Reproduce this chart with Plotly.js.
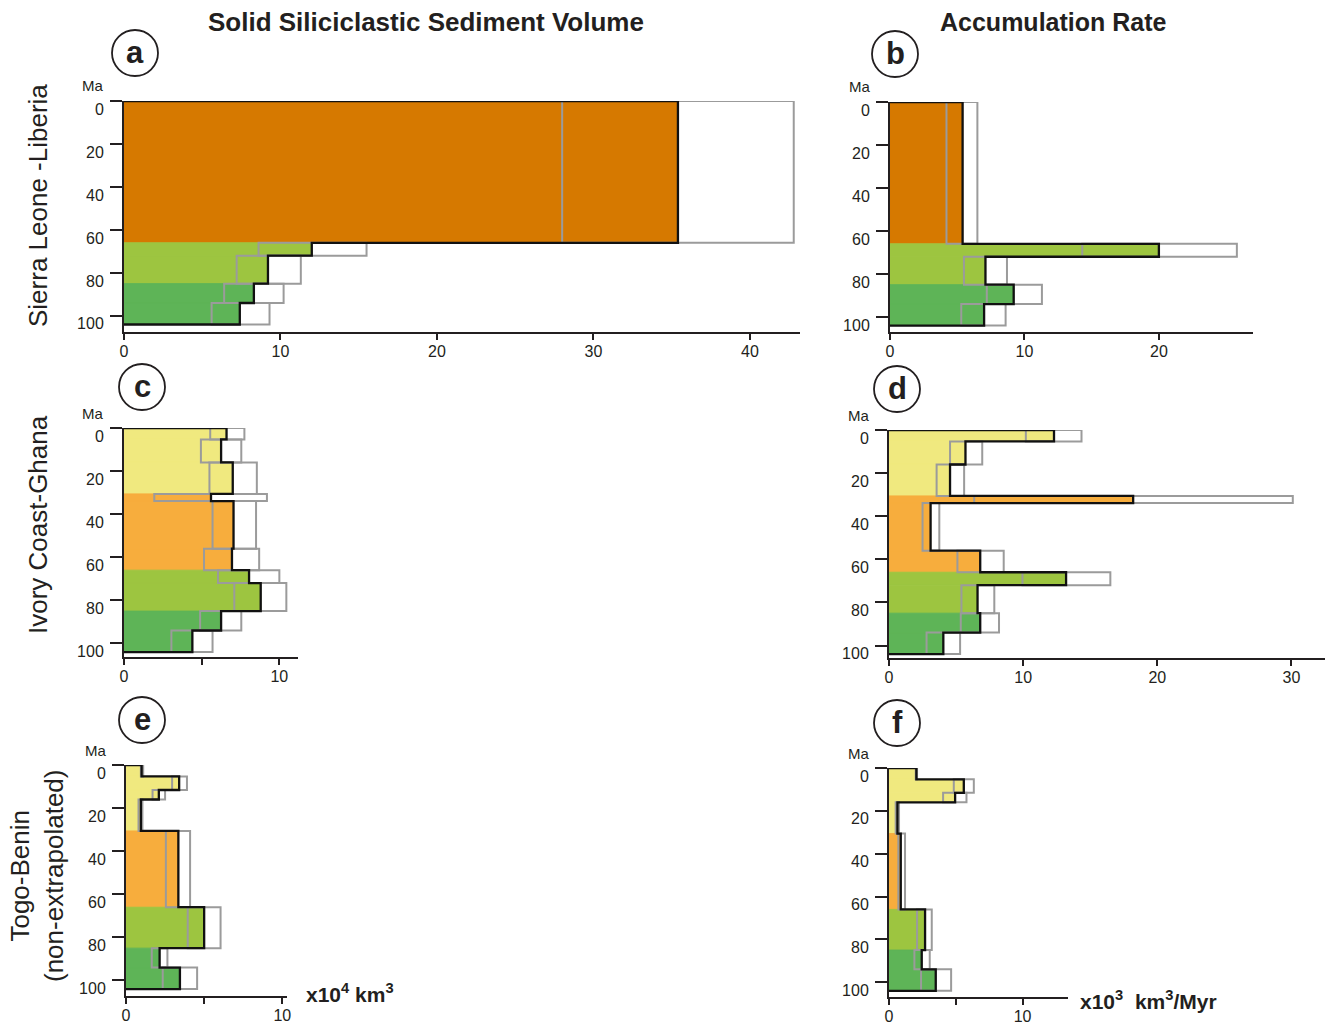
<!DOCTYPE html>
<html><head><meta charset="utf-8">
<script src="https://cdn.plot.ly/plotly-3.0.1.min.js"></script>
<style>html,body{margin:0;padding:0;background:#fff}</style>
</head><body><div id="chart" style="width:1330px;height:1025px"></div>
<script>
// ---------------- DATA ----------------
// Age interval boundaries (Ma) and the colour group of each interval
const agesSL = [0, 66, 72, 85, 94, 104];
const groupsSL = ['Cenozoic', 'Campanian-Maastrichtian', 'Campanian-Maastrichtian', 'Cenomanian-Santonian', 'Cenomanian-Santonian'];
// Sierra Leone - Liberia: volume (x10^4 km3) best / min / max
const volSL    = [35.4, 12.0, 9.2, 8.3, 7.4];
const volSLmin = [28.0, 8.6, 7.2, 6.4, 5.6];
const volSLmax = [42.8, 15.5, 11.3, 10.2, 9.3];
// Sierra Leone - Liberia: accumulation rate (x10^3 km3/Myr)
const rateSL    = [5.4, 20.0, 7.1, 9.2, 7.0];
const rateSLmin = [4.2, 14.3, 5.5, 7.2, 5.3];
const rateSLmax = [6.5, 25.8, 8.7, 11.3, 8.6];

const agesIC = [0, 5.3, 16, 30.6, 33.9, 56, 66, 72, 85, 94, 104];
const groupsIC = ['Neogene-Oligocene', 'Neogene-Oligocene', 'Neogene-Oligocene', 'Paleogene', 'Paleogene', 'Paleogene',
                  'Campanian-Maastrichtian', 'Campanian-Maastrichtian', 'Cenomanian-Santonian', 'Cenomanian-Santonian'];
// Ivory Coast - Ghana
const volIC    = [6.6, 6.25, 7.0, 5.6, 7.05, 6.95, 8.05, 8.8, 6.25, 4.4];
const volICmin = [5.55, 4.95, 5.5, 1.95, 5.7, 5.15, 6.05, 7.1, 4.9, 3.05];
const volICmax = [7.75, 7.55, 8.55, 9.2, 8.5, 8.7, 10.0, 10.45, 7.55, 5.7];
const rateIC    = [12.3, 5.7, 4.55, 18.2, 3.1, 6.8, 13.2, 6.6, 6.8, 4.05];
const rateICmin = [10.2, 4.55, 3.55, 6.35, 2.5, 5.1, 9.95, 5.4, 5.35, 2.8];
const rateICmax = [14.35, 6.95, 5.6, 30.1, 3.75, 8.55, 16.5, 7.85, 8.2, 5.3];

const agesTB = [0, 5.3, 11.6, 16, 30.6, 66, 85, 94, 104];
const groupsTB = ['Neogene-Oligocene', 'Neogene-Oligocene', 'Neogene-Oligocene', 'Neogene-Oligocene', 'Paleogene',
                  'Campanian-Maastrichtian', 'Cenomanian-Santonian', 'Cenomanian-Santonian'];
// Togo - Benin (non-extrapolated)
const volTB    = [1.0, 3.4, 2.1, 0.95, 3.35, 5.0, 2.15, 3.45];
const volTBmin = [0.95, 2.95, 1.7, 0.8, 2.55, 3.95, 1.65, 2.35];
const volTBmax = [1.1, 3.9, 2.5, 1.05, 4.1, 6.05, 2.65, 4.55];
const rateTB    = [2.05, 5.6, 4.95, 0.63, 0.88, 2.7, 2.45, 3.5];
const rateTBmin = [2.0, 4.85, 4.05, 0.5, 0.7, 2.1, 1.9, 2.4];
const rateTBmax = [2.1, 6.35, 5.8, 0.75, 1.2, 3.2, 3.05, 4.65];

const yTicks = [0, 20, 40, 60, 80, 100];

// ---------------- STYLE ----------------
const palette = {
  'Cenozoic': '#D67900',
  'Neogene-Oligocene': '#F0E97F',
  'Paleogene': '#F7AD3D',
  'Campanian-Maastrichtian': '#9DC540',
  'Cenomanian-Santonian': '#5EB457'
};
const W = 1330, H = 1025;
const X = px => px / W;
const Y = py => 1 - py / H;
const ink = '#231f20';
const FONT = 'Liberation Sans, Arial, sans-serif';

const traces = [];
function panel(n, ages, groups, best, lo, hi) {
  const xa = 'x' + (n === 1 ? '' : n), ya = 'y' + (n === 1 ? '' : n);
  const mids = [], widths = [];
  for (let i = 0; i < best.length; i++) {
    mids.push((ages[i] + ages[i + 1]) / 2);
    widths.push(ages[i + 1] - ages[i]);
  }
  const cols = groups.map(g => palette[g]);
  traces.push({
    type: 'bar', orientation: 'h', xaxis: xa, yaxis: ya,
    y: mids, x: best, width: widths,
    marker: { color: cols, line: { width: 1, color: cols } },
    hoverinfo: 'skip', showlegend: false
  });
  traces.push({
    type: 'bar', orientation: 'h', xaxis: xa, yaxis: ya,
    y: mids, base: lo, x: hi.map((h, i) => h - lo[i]), width: widths,
    marker: { color: 'rgba(0,0,0,0)', line: { color: '#9b9b9b', width: 2 } },
    hoverinfo: 'skip', showlegend: false
  });
  const sx = [0], sy = [ages[0]];
  for (let i = 0; i < best.length; i++) {
    sx.push(best[i], best[i]);
    sy.push(ages[i], ages[i + 1]);
  }
  sx.push(0); sy.push(ages[ages.length - 1]);
  traces.push({
    type: 'scatter', mode: 'lines', xaxis: xa, yaxis: ya,
    x: sx, y: sy, line: { color: '#111', width: 2.3 }, cliponaxis: false,
    hoverinfo: 'skip', showlegend: false
  });
}
panel(1, agesSL, groupsSL, volSL, volSLmin, volSLmax);
panel(2, agesSL, groupsSL, rateSL, rateSLmin, rateSLmax);
panel(3, agesIC, groupsIC, volIC, volICmin, volICmax);
panel(4, agesIC, groupsIC, rateIC, rateICmin, rateICmax);
panel(5, agesTB, groupsTB, volTB, volTBmin, volTBmax);
panel(6, agesTB, groupsTB, rateTB, rateTBmin, rateTBmax);

// panel geometry in pixels: [x0, x1, xmax, ytop(0 Ma), ybottom(axis), ymaxMa, xtickvals, xticktext]
const geo = [
  [124, 800, 43.2, 101, 332, 107.5, [0, 10, 20, 30, 40], ['0', '10', '20', '30', '40']],
  [890, 1253, 27.0, 102, 332, 107.0, [0, 10, 20], ['0', '10', '20']],
  [124, 298, 11.2, 428, 657, 106.3, [0, 5, 10], ['0', '', '10']],
  [889, 1325, 32.5, 430, 658, 105.8, [0, 10, 20, 30], ['0', '10', '20', '30']],
  [126, 287, 10.3, 765, 996, 107.2, [0, 5, 10], ['0', '', '10']],
  [889, 1068, 13.4, 768, 997, 106.9, [0, 5, 10], ['0', '', '10']]
];

const layout = {
  width: W, height: H, margin: { l: 0, r: 0, t: 0, b: 0 },
  paper_bgcolor: '#fff', plot_bgcolor: 'rgba(0,0,0,0)',
  barmode: 'overlay', showlegend: false,
  font: { family: FONT, color: ink, size: 15 },
  annotations: [], shapes: []
};
function note(px, py, text, size, extra) {
  layout.annotations.push(Object.assign({
    xref: 'paper', yref: 'paper', x: X(px), y: Y(py), xanchor: 'center', yanchor: 'middle',
    text: text, showarrow: false, font: { size: size, color: ink, family: FONT }
  }, extra || {}));
}
geo.forEach((g, k) => {
  const n = k + 1, sfx = n === 1 ? '' : n;
  layout['xaxis' + sfx] = {
    domain: [X(g[0]), X(g[1])], range: [0, g[2]], anchor: 'y' + sfx,
    showline: true, linecolor: ink, linewidth: 2, ticks: 'outside', ticklen: 6, tickwidth: 2, tickcolor: ink,
    tickvals: g[6], ticktext: g[7], showgrid: false, zeroline: false, fixedrange: true,
    ticklabelstandoff: -2,
    tickfont: { size: 16, color: ink, family: FONT }
  };
  layout['yaxis' + sfx] = {
    domain: [Y(g[4]), Y(g[3])], range: [g[5], 0], anchor: 'x' + sfx,
    showline: true, linecolor: ink, linewidth: 2, ticks: 'outside', ticklen: 12, tickwidth: 2, tickcolor: ink,
    tickvals: yTicks, showgrid: false, zeroline: false, fixedrange: true,
    ticklabelshift: -8, ticklabelstandoff: 3,
    tickfont: { size: 16, color: ink, family: FONT }
  };
  note(g[0] - 31, g[3] - 15, 'Ma', 15);
});

// panel letters in circles
const letters = [['a', 135, 53], ['b', 895, 54], ['c', 142, 387], ['d', 897, 389], ['e', 142, 720], ['f', 897, 723]];
letters.forEach(l => {
  layout.shapes.push({
    type: 'circle', xref: 'paper', yref: 'paper',
    x0: X(l[1] - 23), x1: X(l[1] + 23), y0: Y(l[2] + 23), y1: Y(l[2] - 23),
    line: { color: ink, width: 1.8 }
  });
  note(l[1], l[2] - 1, '<b>' + l[0] + '</b>', 31);
});

// column titles
note(426, 22, '<b>Solid Siliciclastic Sediment Volume</b>', 26);
note(1053, 22, '<b>Accumulation Rate</b>', 25);
// row titles
note(38, 206, 'Sierra Leone -Liberia', 26, { textangle: -90 });
note(38, 525, 'Ivory Coast-Ghana', 26, { textangle: -90 });
note(37, 876, 'Togo-Benin<br>(non-extrapolated)', 26, { textangle: -90 });
// unit labels
note(350, 993, '<b>x10<sup>4</sup> km<sup>3</sup></b>', 21);
note(1148, 1000, '<b>x10<sup>3</sup>  km<sup>3</sup>/Myr</b>', 21);

Plotly.newPlot('chart', traces, layout, { staticPlot: true, displayModeBar: false });
</script></body></html>
